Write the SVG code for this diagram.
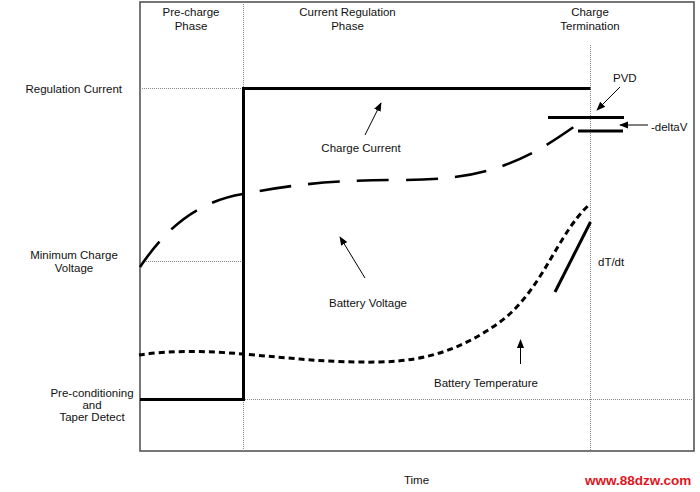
<svg xmlns="http://www.w3.org/2000/svg" width="700" height="492" viewBox="0 0 700 492">
<defs>
<marker id="ah" viewBox="0 0 10 10" refX="9" refY="5" markerWidth="9" markerHeight="9" markerUnits="userSpaceOnUse" orient="auto">
<path d="M0,1 L10,5 L0,9 z" fill="#000"/>
</marker>
<style>
text{font-family:"Liberation Sans",Arial,sans-serif;font-size:11.5px;fill:#111}
.c{text-anchor:middle}
.e{text-anchor:end}
.grid{stroke:#888;stroke-width:1;stroke-dasharray:1,1;fill:none}
.frame{stroke:#555;stroke-width:1.6;fill:none}
.thick{stroke:#000;stroke-width:3;fill:none}
.arr{stroke:#000;stroke-width:1;fill:none;marker-end:url(#ah)}
</style>
</defs>
<rect width="700" height="492" fill="#fff"/>
<g id="grid">
<rect class="frame" x="140" y="2" width="554" height="449"/>
<line class="grid" x1="243.5" y1="2" x2="243.5" y2="451"/>
<line class="grid" x1="590.5" y1="45" x2="590.5" y2="451"/>
<line class="grid" x1="140" y1="88.5" x2="243" y2="88.5"/>
<line class="grid" x1="140" y1="261.5" x2="243" y2="261.5"/>
<line class="grid" x1="243" y1="399.5" x2="694" y2="399.5"/>
</g>
<g id="labels">
<text class="c" x="191" y="16">Pre-charge</text>
<text class="c" x="191" y="29.5">Phase</text>
<text class="c" x="347.5" y="16">Current Regulation</text>
<text class="c" x="347.5" y="29.5">Phase</text>
<text class="c" x="590" y="16">Charge</text>
<text class="c" x="590" y="29.5">Termination</text>
<text class="e" x="122" y="93">Regulation Current</text>
<text class="c" x="74" y="258.5">Minimum Charge</text>
<text class="c" x="74" y="272">Voltage</text>
<text class="c" x="92" y="396.5">Pre-conditioning</text>
<text class="c" x="92" y="409">and</text>
<text class="c" x="92" y="421">Taper Detect</text>
<text class="c" x="416.5" y="484">Time</text>
</g>
<g id="charge-current">
<path class="thick" d="M140,399.5 H243.5 V88.5 H590.5"/>
<text class="c" x="361" y="152">Charge Current</text>
</g>
<g id="battery-voltage">
<path d="M140,267 C165,230 195,202 243,194 C290,185 330,180 400,180 C445,180 475,176 505,165 C535,154 555,140 578,124" stroke="#000" stroke-width="2.6" fill="none" stroke-dasharray="32,17"/>
<text class="c" x="368" y="307">Battery Voltage</text>
</g>
<g id="battery-temperature">
<path d="M139,355 C170,350 210,351 243,354 C290,358 330,363 380,362 C430,361 465,347 500,322 C530,300 548,262 562,240 C573,222 582,211 590,204" stroke="#000" stroke-width="3" fill="none" stroke-dasharray="6,4"/>
<text class="c" x="486" y="387">Battery Temperature</text>
</g>
<g id="pvd">
<line class="thick" x1="548" y1="117.5" x2="624" y2="117.5"/>
<line class="thick" x1="578" y1="131" x2="623" y2="131"/>
<text x="613" y="82">PVD</text>
<text x="651" y="130.5">-deltaV</text>
</g>
<g id="dtdt">
<line x1="555" y1="292" x2="590.5" y2="222" stroke="#000" stroke-width="3"/>
<text x="598" y="266">dT/dt</text>
</g>
<g id="connectors">
<line class="arr" x1="365" y1="135" x2="381" y2="103"/>
<line class="arr" x1="365" y1="278" x2="340" y2="237"/>
<line class="arr" x1="520.5" y1="364" x2="520.5" y2="340"/>
<line class="arr" x1="620" y1="87" x2="597" y2="110"/>
<line class="arr" x1="648" y1="125" x2="620" y2="125"/>
</g>
<text x="585" y="485" style="font-family:'Liberation Sans',Arial,sans-serif;font-weight:bold;font-size:13.5px;fill:#e0141e">www.88dzw.com</text>
</svg>
